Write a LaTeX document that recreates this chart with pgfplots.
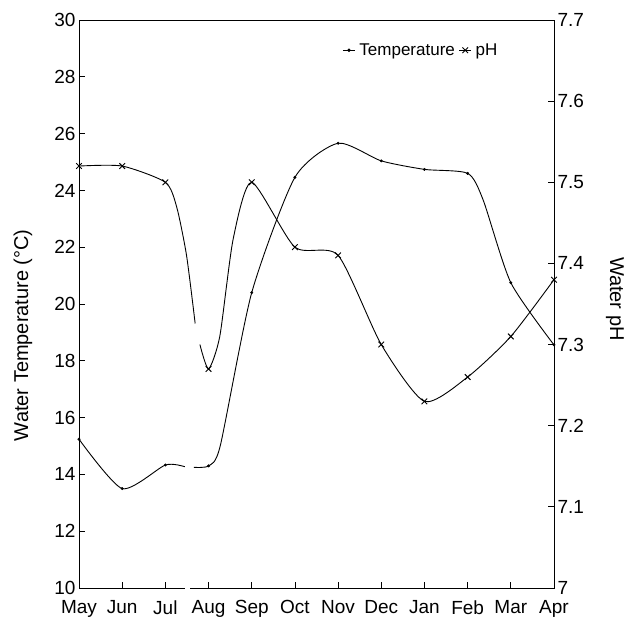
\documentclass[border=0pt]{standalone}
\usepackage{fontspec}
\setmainfont{Liberation Sans}
\usepackage{pgfplots}
\usepackage{pgfplotstable}
\pgfplotsset{compat=1.18}

% Temperature curve (with break between Jul and Aug); extra rows are points
\pgfplotstableread{
x y
0 15.24
1 13.50
2 14.33
2.45 14.27
}\tempA
\pgfplotstableread{
x y
2.66 14.25
3 14.30
3.27 15.00
4 20.40
5 24.46
6 25.66
7 25.04
8 24.74
9 24.60
9.36 23.66
10 20.75
11 18.56
}\tempB
\pgfplotstableread{
x y
0 15.24
1 13.50
2 14.33
3 14.30
4 20.40
5 24.46
6 25.66
7 25.04
8 24.74
9 24.60
10 20.75
11 18.56
}\tempM
% pH curve
\pgfplotstableread{
x y
0 7.52
1 7.52
2 7.50
2.26 7.47
2.49 7.41
2.69 7.326
}\phA
\pgfplotstableread{
x y
2.80 7.30
3 7.27
3.26 7.31
3.57 7.43
4 7.50
5 7.42
6 7.41
7 7.30
8 7.23
9 7.26
10 7.31
11 7.38
}\phB
\pgfplotstableread{
x y
0 7.52
1 7.52
2 7.50
3 7.27
4 7.50
5 7.42
6 7.41
7 7.30
8 7.23
9 7.26
10 7.31
11 7.38
}\phM

\pgfplotsset{
  common/.style={
    font=\fontsize{19bp}{22bp}\selectfont,
    scale only axis, width=475bp, height=568bp,
    xmin=0, xmax=11,
    /pgf/number format/assume math mode=true,
    tick align=inside,
    major tick length=6bp,
    axis line style={line width=0.9bp},
    every tick/.style={black, line width=0.8bp},
  },
  tline/.style={black, line width=0.9bp, smooth, tension=0.4, no markers},
}

\begin{document}
\begin{tikzpicture}
\begin{axis}[common,
  ymin=10, ymax=30, ytick={10,12,...,30},
  xtick={0,...,11},
  xticklabels={May,Jun,Jul,Aug,Sep,Oct,Nov,Dec,Jan,Feb,Mar,Apr},
  xticklabel style={yshift=-9bp},
  tick pos=left,
  ylabel={Water Temperature (°C)},
  ylabel style={at={(axis description cs:-0.118,0.445)}, anchor=center,
    font=\fontsize{20bp}{23bp}\selectfont},
]
\addplot[tline] table {\tempA};
\addplot[tline] table {\tempB};
\addplot[only marks, mark=*, mark size=1.3bp, black] table {\tempM};
\end{axis}
\begin{axis}[common,
  ymin=7, ymax=7.7, ytick={7,7.1,...,7.7},
  yticklabels={7,7.1,7.2,7.3,7.4,7.5,7.6,7.7},
  axis x line=none, axis y line*=right,
  ylabel={Water pH},
  ylabel style={at={(axis description cs:1.128,0.509)}, anchor=center, rotate=180,
    font=\fontsize{20bp}{23bp}\selectfont},
  clip=false,
  legend columns=2,
  legend style={draw=none, fill=none, at={(axis description cs:0.72,0.964)}, anchor=north,
    font=\fontsize{17bp}{20bp}\selectfont, column sep=2bp, inner sep=1bp},
  legend image code/.code={
    \draw[#1, mark=none] (0bp,0bp) -- (12bp,0bp);
    \draw[#1, only marks] plot coordinates {(6bp,0bp)};
  },
]
\addlegendimage{black, line width=0.9bp, mark=*, mark size=1.3bp}
\addlegendentry{Temperature}
\addplot[tline, forget plot] table {\phA};
\addplot[tline, forget plot] table {\phB};
\addplot[only marks, mark=x, mark size=4bp, black, line width=0.9bp] table {\phM};
\addlegendentry{pH}
\fill[white] (axis cs:2.46,6.996) rectangle (axis cs:2.57,7.004);
\path (axis description cs:-0.16632,-0.0581) rectangle (axis description cs:1.16842,1.03521);
\end{axis}
\end{tikzpicture}
\end{document}
